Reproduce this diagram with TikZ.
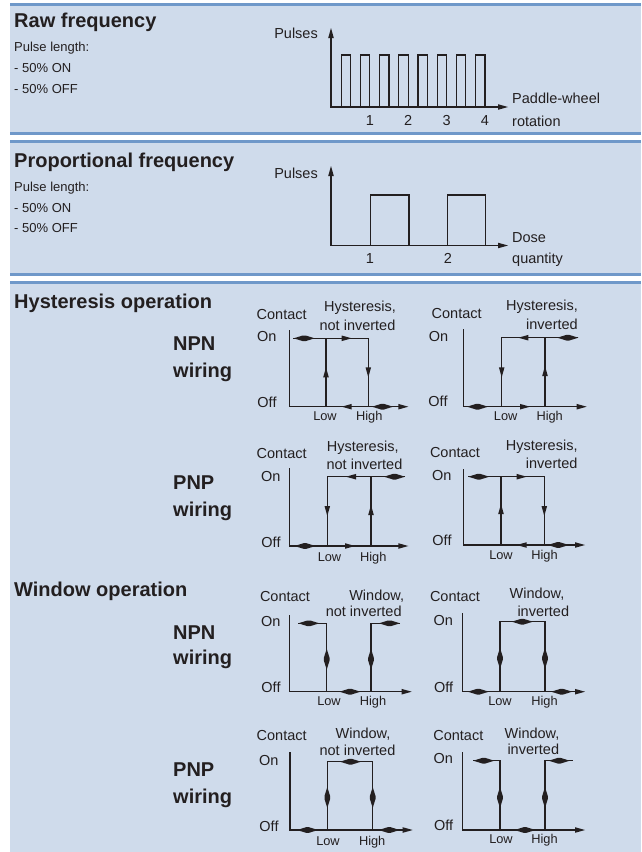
\documentclass[tikz,border=0pt]{standalone}
\usepackage{fontspec}
\setmainfont{Liberation Sans}
\definecolor{panel}{HTML}{CFDBEB}
\definecolor{rulec}{HTML}{6F98C9}
\definecolor{ink}{HTML}{231F20}
\newcommand\ArrR[2]{\fill[ink] (#1,#2) -- (#1-10,#2-2.8) -- (#1-10,#2+2.8) -- cycle;}
\newcommand\ArrL[2]{\fill[ink] (#1,#2) -- (#1+10,#2-2.8) -- (#1+10,#2+2.8) -- cycle;}
\newcommand\ArrU[2]{\fill[ink] (#1,#2) -- (#1-2.8,#2+10) -- (#1+2.8,#2+10) -- cycle;}
\newcommand\ArrD[2]{\fill[ink] (#1,#2) -- (#1-2.8,#2-10) -- (#1+2.8,#2-10) -- cycle;}
\newcommand\DblH[2]{\fill[ink] (#1-10.5,#2) -- (#1-1.5,#2-2.8) -- (#1+1.5,#2-2.8) -- (#1+10.5,#2) -- (#1+1.5,#2+2.8) -- (#1-1.5,#2+2.8) -- cycle;}
\newcommand\DblV[2]{\fill[ink] (#1,#2-10.5) -- (#1-2.8,#2-1.5) -- (#1-2.8,#2+1.5) -- (#1,#2+10.5) -- (#1+2.8,#2+1.5) -- (#1+2.8,#2-1.5) -- cycle;}
\tikzset{
  ttl/.style={font=\fontsize{20}{24}\selectfont\bfseries, anchor=base west, inner sep=0, text=ink},
  sml/.style={font=\fontsize{13}{15}\selectfont, anchor=base west, inner sep=0, text=ink},
  lab/.style={font=\fontsize{14.5}{17}\selectfont, anchor=base, inner sep=0, text=ink},
  labw/.style={lab, anchor=base west},
  labe/.style={lab, anchor=base east},
  tick/.style={font=\fontsize{12.8}{15}\selectfont, anchor=base, inner sep=0, text=ink},
  ln/.style={draw=ink, line width=1.2pt},
}
\begin{document}
\begin{tikzpicture}[x=1pt, y=-1pt]
\useasboundingbox (0,0) rectangle (641,852);
% backgrounds
\fill[white] (0,0) rectangle (641,852);
\fill[rulec] (10,3) rectangle (641,6);
\fill[panel] (10,6) rectangle (641,132);
\fill[rulec] (10,132) rectangle (641,135);
\fill[rulec] (10,140) rectangle (641,143);
\fill[panel] (10,143) rectangle (641,273);
\fill[rulec] (10,273) rectangle (641,276);
\fill[rulec] (10,281) rectangle (641,284);
\fill[panel] (10,284) rectangle (641,852);

% ---------- Panel 1: raw frequency ----------
\node[ttl] (rawt) at (14,27.9) {Raw frequency};
\node[sml] (rawa) at (14,51.7) {Pulse length:};
\node[sml] (rawb) at (14,72.7) {- 50\% ON};
\node[sml] (rawc) at (14,93.7) {- 50\% OFF};
\node[labe] (rawy) at (318,38) {Pulses};
\draw[ln] (331,36) -- (331,107) -- (502,107);
\ArrU{331}{28}
\ArrR{508}{107}
\foreach \k in {0,...,7}
  \draw[ln] (341.2+19.2*\k,107) -- (341.2+19.2*\k,55) -- (350.6+19.2*\k,55) -- (350.6+19.2*\k,107);
\node[lab] (rn1) at (369.8,125) {1};
\node[lab] (rn2) at (408.2,125) {2};
\node[lab] (rn3) at (446.6,125) {3};
\node[lab] (rn4) at (485,125) {4};
\node[labw] (rawx1) at (512,103) {Paddle-wheel};
\node[labw] (rawx2) at (512,126) {rotation};

% ---------- Panel 2: proportional frequency ----------
\node[ttl] (prt) at (14,167.9) {Proportional frequency};
\node[sml] (pra) at (14,191.7) {Pulse length:};
\node[sml] (prb) at (14,212.7) {- 50\% ON};
\node[sml] (prc) at (14,232.7) {- 50\% OFF};
\node[labe] (pry) at (318,178.3) {Pulses};
\draw[ln] (331,174) -- (331,245.5) -- (502,245.5);
\ArrU{331}{166}
\ArrR{508}{245.5}
\draw[ln] (370.5,245.5) -- (370.5,195) -- (409,195) -- (409,245.5);
\draw[ln] (447.8,245.5) -- (447.8,195) -- (485.6,195) -- (485.6,245.5);
\node[lab] (pn1) at (370,263.3) {1};
\node[lab] (pn2) at (447.8,263.3) {2};
\node[labw] (prx1) at (512,242) {Dose};
\node[labw] (prx2) at (512,263) {quantity};

% ---------- Panel 3 headings ----------
\node[ttl] (hyt) at (14,308.3) {Hysteresis operation};
\node[ttl] (hyn1) at (173,350) {NPN};
\node[ttl] (hyn2) at (173,377.5) {wiring};
\node[ttl] (hyp1) at (173,489) {PNP};
\node[ttl] (hyp2) at (173,516.5) {wiring};
\node[ttl] (wit) at (14,596.5) {Window operation};
\node[ttl] (win1) at (173,639) {NPN};
\node[ttl] (win2) at (173,664) {wiring};
\node[ttl] (wip1) at (173,776) {PNP};
\node[ttl] (wip2) at (173,803) {wiring};

% ---------- D1: NPN hysteresis, not inverted ----------
\draw[ln] (289.3,330) -- (289.3,406.7) -- (402,406.7);
\ArrR{408.3}{406.7}
\draw[ln] (293.3,338.3) -- (368.3,338.3) -- (368.3,406.7);
\draw[ln] (326,406.7) -- (326,338.3);
\DblH{304.2}{338.3}
\ArrR{351.7}{338.3}
\ArrU{326}{367.3}
\ArrD{368.3}{377.3}
\ArrL{341.7}{406.7}
\DblH{382.5}{406.7}
\node[lab] (d1c) at (281.7,319.3) {Contact};
\node[lab] (d1t1) at (360,311.7) {Hysteresis,};
\node[lab] (d1t2) at (357.5,330) {not inverted};
\node[lab] (d1on) at (266.7,341.7) {On};
\node[lab] (d1off) at (267,407.7) {Off};
\node[tick] (d1lo) at (325,420.7) {Low};
\node[tick] (d1hi) at (369.3,420.7) {High};

% ---------- D2: NPN hysteresis, inverted ----------
\draw[ln] (463.3,329.3) -- (463.3,406.7) -- (580.7,406.7);
\ArrR{586.7}{406.7}
\draw[ln] (578.3,337.7) -- (501.7,337.7) -- (501.7,406.7);
\draw[ln] (545,406.7) -- (545,337.7);
\ArrL{518.3}{337.7}
\DblH{567.8}{337.7}
\ArrD{501.7}{377.3}
\ArrU{545}{366}
\DblH{477.5}{406.7}
\ArrR{530}{406.7}
\node[lab] (d2c) at (456.7,318.3) {Contact};
\node[lab] (d2t1) at (542,310.7) {Hysteresis,};
\node[lab] (d2t2) at (552,329.3) {inverted};
\node[lab] (d2on) at (438.5,341.7) {On};
\node[lab] (d2off) at (438,406.7) {Off};
\node[tick] (d2lo) at (505.7,420.7) {Low};
\node[tick] (d2hi) at (549.7,420.7) {High};

% ---------- D3: PNP hysteresis, not inverted ----------
\draw[ln] (289.3,468.3) -- (289.3,546) -- (402.3,546);
\ArrR{408.3}{546}
\draw[ln] (405,476.7) -- (327.3,476.7) -- (327.3,546);
\draw[ln] (371,546) -- (371,476.7);
\ArrL{346}{476.7}
\DblH{394.5}{476.7}
\ArrD{327.3}{516}
\ArrU{371}{505}
\DblH{305}{546}
\ArrR{355}{546}
\node[lab] (d3c) at (281.7,458.3) {Contact};
\node[lab] (d3t1) at (362.7,451.7) {Hysteresis,};
\node[lab] (d3t2) at (364.5,469.3) {not inverted};
\node[lab] (d3on) at (270.7,481.7) {On};
\node[lab] (d3off) at (271,547.3) {Off};
\node[tick] (d3lo) at (329.5,561.7) {Low};
\node[tick] (d3hi) at (373.3,561.7) {High};

% ---------- D4: PNP hysteresis, inverted ----------
\draw[ln] (463.3,469.3) -- (463.3,545) -- (579,545);
\ArrR{585}{545}
\draw[ln] (468.3,476.7) -- (544.3,476.7) -- (544.3,545);
\draw[ln] (501,545) -- (501,476.7);
\DblH{478.8}{476.7}
\ArrR{526.7}{476.7}
\ArrU{501}{504}
\ArrD{544.3}{516}
\ArrL{516.7}{545}
\DblH{558.3}{545}
\node[lab] (d4c) at (455,457.3) {Contact};
\node[lab] (d4t1) at (541.7,450) {Hysteresis,};
\node[lab] (d4t2) at (551.7,468.3) {inverted};
\node[lab] (d4on) at (441.7,480) {On};
\node[lab] (d4off) at (442,545) {Off};
\node[tick] (d4lo) at (501,559.3) {Low};
\node[tick] (d4hi) at (544.5,559.3) {High};

% ---------- D5: NPN window, not inverted ----------
\draw[ln] (289.3,615) -- (289.3,691.7) -- (405.7,691.7);
\ArrR{411.7}{691.7}
\draw[ln] (298.3,623.3) -- (326.7,623.3) -- (326.7,691.7);
\draw[ln] (371,691.7) -- (371,623.3) -- (400,623.3);
\DblH{308.8}{623.3}
\DblH{389.5}{623.3}
\DblH{350}{691.7}
\DblV{326.7}{659.2}
\DblV{371}{659.2}
\node[lab] (d5c) at (285,601.7) {Contact};
\node[lab] (d5t1) at (376.7,600) {Window,};
\node[lab] (d5t2) at (363.7,616.7) {not inverted};
\node[lab] (d5on) at (270.7,626.7) {On};
\node[lab] (d5off) at (271,692.3) {Off};
\node[tick] (d5lo) at (329,705.3) {Low};
\node[tick] (d5hi) at (373,705.3) {High};

% ---------- D6: NPN window, inverted ----------
\draw[ln] (462.7,613.3) -- (462.7,691.7) -- (579,691.7);
\ArrR{585}{691.7}
\draw[ln] (500,691.7) -- (500,621.7) -- (545,621.7) -- (545,691.7);
\DblH{522.3}{621.7}
\DblH{478.3}{691.7}
\DblH{561.7}{691.7}
\DblV{500}{658.3}
\DblV{545}{658.3}
\node[lab] (d6c) at (455,601) {Contact};
\node[lab] (d6t1) at (537,598.3) {Window,};
\node[lab] (d6t2) at (543.3,616.7) {inverted};
\node[lab] (d6on) at (443.3,625.7) {On};
\node[lab] (d6off) at (443.7,692.3) {Off};
\node[tick] (d6lo) at (500,705) {Low};
\node[tick] (d6hi) at (544.5,705) {High};

% ---------- D7: PNP window, not inverted ----------
\draw[ln] (290,752.3) -- (290,830) -- (406.7,830);
\ArrR{412.7}{830}
\draw[ln] (327.3,830) -- (327.3,761.7) -- (372.7,761.7) -- (372.7,830);
\DblH{350.5}{761.7}
\DblH{307.5}{830}
\DblH{389.2}{830}
\DblV{327.3}{797.5}
\DblV{372.7}{797.5}
\node[lab] (d7c) at (281.7,740) {Contact};
\node[lab] (d7t1) at (363,738.3) {Window,};
\node[lab] (d7t2) at (357.5,755.7) {not inverted};
\node[lab] (d7on) at (268.8,765.7) {On};
\node[lab] (d7off) at (269,831.7) {Off};
\node[tick] (d7lo) at (328,845.7) {Low};
\node[tick] (d7hi) at (372.2,845.7) {High};

% ---------- D8: PNP window, inverted ----------
\draw[ln] (462.7,752.3) -- (462.7,830) -- (579,830);
\ArrR{585}{830}
\draw[ln] (473.3,760.7) -- (500,760.7) -- (500,830);
\draw[ln] (545,830) -- (545,760.7) -- (573.3,760.7);
\DblH{483.8}{760.7}
\DblH{559.2}{760.7}
\DblH{525}{830}
\DblV{500}{797.5}
\DblV{545}{797.5}
\node[lab] (d8c) at (458.3,740) {Contact};
\node[lab] (d8t1) at (532,738.3) {Window,};
\node[lab] (d8t2) at (533.3,754.3) {inverted};
\node[lab] (d8on) at (443.3,763.3) {On};
\node[lab] (d8off) at (443.7,830) {Off};
\node[tick] (d8lo) at (501,843.3) {Low};
\node[tick] (d8hi) at (544.5,843.3) {High};
\end{tikzpicture}
\end{document}
